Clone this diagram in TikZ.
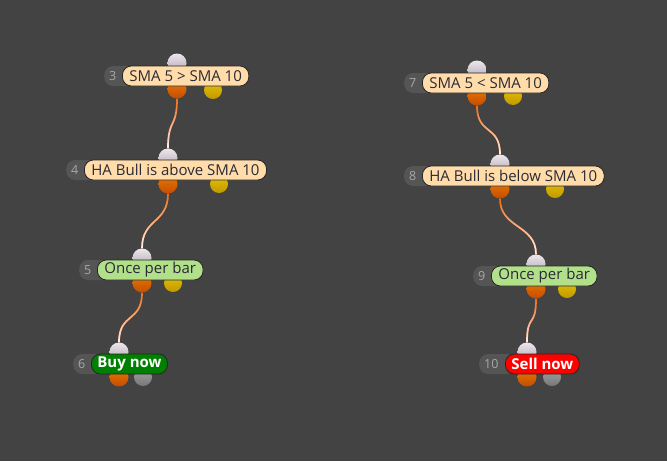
\documentclass[tikz,border=0pt]{standalone}
\usepackage{fontspec}
\setmainfont{Open Sans}
\usepackage{tikz}
\usetikzlibrary{positioning,fadings}
\usepackage{xcolor}

\definecolor{bgcol}{HTML}{434343}
\definecolor{numcol}{HTML}{555555}
\definecolor{numtext}{HTML}{A8A8A8}
\definecolor{peach}{HTML}{FFDCAA}
\definecolor{lime}{HTML}{B2E08A}
\definecolor{buygreen}{HTML}{008000}
\definecolor{sellred}{HTML}{FF0000}
\definecolor{labtext}{HTML}{2A2A35}
\definecolor{portin}{HTML}{D2C2D2}
\definecolor{portout}{HTML}{E65A00}
\definecolor{portaux}{HTML}{E2B300}
\definecolor{portgrey}{HTML}{8C8C8C}
\definecolor{wireorange}{HTML}{F26A10}
\definecolor{wirewhite}{HTML}{FDF3F8}

\tikzset{
    numpill/.style={anchor=west, fill=numcol, rounded corners=9pt,
        minimum height=20pt, text width=26pt, inner xsep=5pt, align=left,
        font=\fontsize{12.5}{14}\selectfont, text=numtext},
    labpill/.style={anchor=west, rounded corners=9pt, minimum height=20pt,
        inner xsep=7pt, inner ysep=0pt, font=\fontsize{15}{17}\selectfont,
        text=labtext, draw=black!45!bgcol, line width=0.8pt},
    actpill/.style={labpill, text=white, font=\fontsize{15}{17}\selectfont\bfseries,
        inner xsep=6pt},
    inport/.style={circle, minimum size=19pt, inner sep=0pt,
        top color=portin!40!white, bottom color=portin!85!black},
    outport/.style={circle, minimum size=19pt, inner sep=0pt,
        top color=portout!80!yellow, bottom color=portout!85!black},
    auxport/.style={circle, minimum size=18pt, inner sep=0pt,
        top color=portaux!80!yellow, bottom color=portaux!85!black},
    greyport/.style={circle, minimum size=18pt, inner sep=0pt,
        top color=portgrey!80!white, bottom color=portgrey!85!black},
    wire/.style={line width=1.7pt, draw=wireorange},
    wirefade/.style={line width=1.7pt, draw=wirewhite, path fading=north}
}

\begin{document}
\begin{tikzpicture}[x=1pt, y=-1pt]

\fill[bgcol] (0,0) rectangle (667,461);
\useasboundingbox (0,0) rectangle (667,461);

% ports, left chain
\node[inport] (i3) at (177,63) {};
\node[outport] (o3) at (177,89) {};
\node[auxport] (a3) at (213,90) {};
\node[inport] (i4) at (168,158) {};
\node[outport] (o4) at (168,184) {};
\node[auxport] (a4) at (219,184) {};
\node[inport] (i5) at (142,258) {};
\node[outport] (o5) at (142,283) {};
\node[auxport] (a5) at (173,283) {};
\node[inport] (i6) at (119,352) {};
\node[outport] (o6) at (119,377) {};
\node[greyport] (g6) at (143,377) {};

% ports, right chain
\node[inport] (i7) at (477,70) {};
\node[outport] (o7) at (477,96) {};
\node[auxport] (a7) at (513,96) {};
\node[inport] (i8) at (500,164) {};
\node[outport] (o8) at (500,189) {};
\node[auxport] (a8) at (555,189) {};
\node[inport] (i9) at (536,264) {};
\node[outport] (o9) at (536,289) {};
\node[auxport] (a9) at (567,289) {};
\node[inport] (i10) at (527,352) {};
\node[outport] (o10) at (527,377) {};
\node[greyport] (g10) at (552,377) {};

% wires
\foreach \a/\b in {3/4, 4/5, 5/6, 7/8, 8/9, 9/10} {
    \draw[wire] (o\a.south) .. controls +(0,30) and +(0,-30) .. (i\b.north);
    \draw[wirefade] (o\a.south) .. controls +(0,30) and +(0,-30) .. (i\b.north);
}

% blocks
\node[numpill] (n3) at (104,76) {3};
\node[labpill, fill=peach] (l3) at (122,76) {SMA 5 > SMA 10};
\node[numpill] (n4) at (66,170) {4};
\node[labpill, fill=peach] (l4) at (84,170) {HA Bull is above SMA 10};
\node[numpill] (n5) at (79,270) {5};
\node[labpill, fill=lime] (l5) at (97,270) {Once per bar};
\node[numpill] (n6) at (73,364) {6};
\node[actpill, fill=buygreen] (l6) at (91,364) {Buy now};

\node[numpill] (n7) at (404,83) {7};
\node[labpill, fill=peach] (l7) at (422,83) {SMA 5 < SMA 10};
\node[numpill] (n8) at (404,176) {8};
\node[labpill, fill=peach] (l8) at (422,176) {HA Bull is below SMA 10};
\node[numpill] (n9) at (473,276) {9};
\node[labpill, fill=lime] (l9) at (491,276) {Once per bar};
\node[numpill] (n10) at (479,364) {10};
\node[actpill, fill=sellred] (l10) at (505,364) {Sell now};

\end{tikzpicture}
\end{document}
